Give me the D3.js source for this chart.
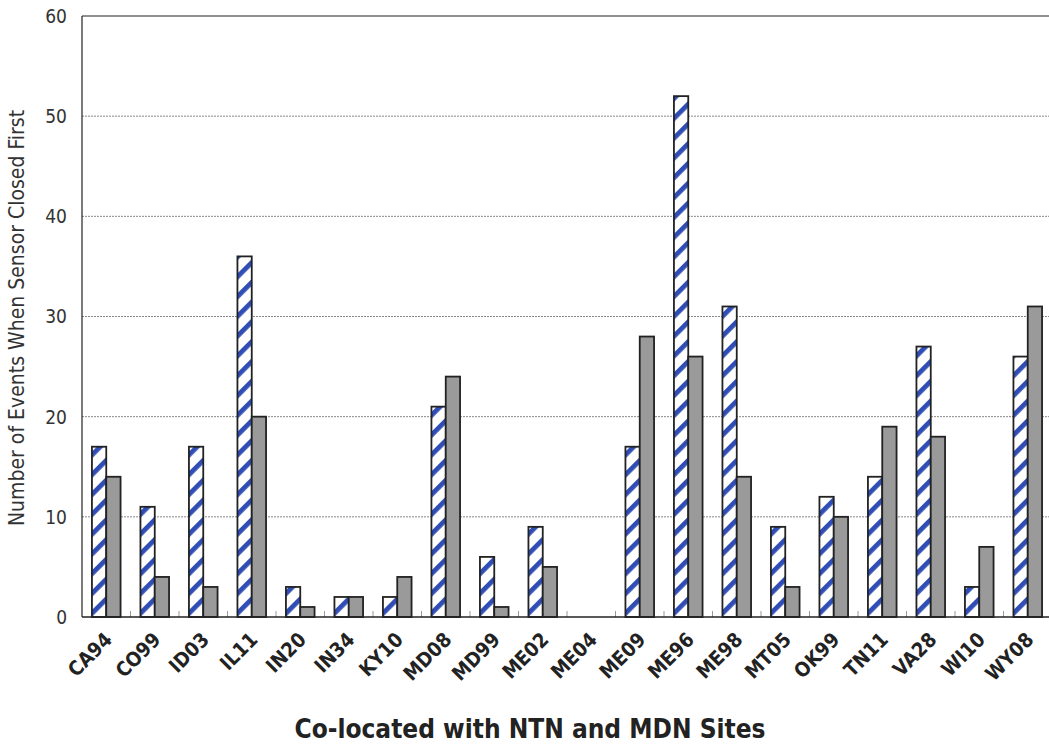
<!DOCTYPE html>
<html>
<head>
<meta charset="utf-8">
<script src="https://cdnjs.cloudflare.com/ajax/libs/d3/7.8.5/d3.min.js"></script>
<style>
  body { margin: 0; background: #fff; }
  text { font-family: "Liberation Sans Narrow", "Arial Narrow", "DejaVu Sans Condensed", sans-serif; }
</style>
</head>
<body>
<script>
// sites along the bottom
var sites = ["CA94","CO99","ID03","IL11","IN20","IN34","KY10","MD08","MD99","ME02",
             "ME04","ME09","ME96","ME98","MT05","OK99","TN11","VA28","WI10","WY08"];
// hatched (blue striped) bars
var hatched = [17, 11, 17, 36, 3, 2, 2, 21, 6, 9, 0, 17, 52, 31, 9, 12, 14, 27, 3, 26];
// solid gray bars
var solid   = [14, 4, 3, 20, 1, 2, 4, 24, 1, 5, 0, 28, 26, 14, 3, 10, 19, 18, 7, 31];
var yTicks = [0, 10, 20, 30, 40, 50, 60];

// set the dimensions and margins of the graph
var margin = {top: 16, right: 0, bottom: 127, left: 82},
    width = 1052 - margin.left,
    height = 744 - margin.top - margin.bottom;

var svg = d3.select("body").append("svg")
    .attr("width", 1049)
    .attr("height", 744);

var defs = svg.append("defs");
var pat = defs.append("pattern")
    .attr("id", "stripes")
    .attr("patternUnits", "userSpaceOnUse")
    .attr("width", 14)
    .attr("height", 14)
    .attr("patternTransform", "rotate(45)");
pat.append("rect").attr("width", 14).attr("height", 14).attr("fill", "#fff");
pat.append("rect").attr("width", 4.8).attr("height", 14).attr("fill", "#2f4db5");

var g = svg.append("g")
    .attr("transform", "translate(" + margin.left + "," + margin.top + ")");

// set the ranges
var x = d3.scaleBand().domain(sites).range([0, width])
    .paddingInner(0.41).paddingOuter(0.205);
var xs = d3.scaleBand().domain(["h", "s"]).range([0, x.bandwidth()]);
var y = d3.scaleLinear().domain([0, 60]).range([height, 0]);

// gridlines
g.selectAll(".grid")
    .data(yTicks.filter(function(d) { return d > 0 && d < 60; }))
  .enter().append("line")
    .attr("x1", 0).attr("x2", width)
    .attr("y1", function(d) { return y(d); })
    .attr("y2", function(d) { return y(d); })
    .attr("stroke", "#888")
    .attr("stroke-width", 1)
    .attr("stroke-dasharray", "2,1");

// minor ticks between categories
g.selectAll(".mtick")
    .data(sites.slice(1))
  .enter().append("line")
    .attr("x1", function(d) { return x(d) - x.step() * 0.205; })
    .attr("x2", function(d) { return x(d) - x.step() * 0.205; })
    .attr("y1", height).attr("y2", height - 6)
    .attr("stroke", "#999")
    .attr("stroke-width", 1);

var groups = g.selectAll(".site")
    .data(sites)
  .enter().append("g")
    .attr("transform", function(d) { return "translate(" + x(d) + ",0)"; });

groups.append("rect")
    .attr("x", xs("h"))
    .attr("width", xs.bandwidth())
    .attr("y", function(d, i) { return y(hatched[i]); })
    .attr("height", function(d, i) { return height - y(hatched[i]); })
    .attr("fill", "url(#stripes)")
    .attr("stroke", "#222")
    .attr("stroke-width", 1.8)
    .style("display", function(d, i) { return hatched[i] > 0 ? null : "none"; });

groups.append("rect")
    .attr("x", xs("s"))
    .attr("width", xs.bandwidth())
    .attr("y", function(d, i) { return y(solid[i]); })
    .attr("height", function(d, i) { return height - y(solid[i]); })
    .attr("fill", "#9a9a9a")
    .attr("stroke", "#222")
    .attr("stroke-width", 1.8)
    .style("display", function(d, i) { return solid[i] > 0 ? null : "none"; });

// frame: left, top, bottom
g.append("line").attr("x1", 0).attr("x2", 0).attr("y1", 0).attr("y2", height)
    .attr("stroke", "#222").attr("stroke-width", 1.2);
g.append("line").attr("x1", 0).attr("x2", width).attr("y1", 0).attr("y2", 0)
    .attr("stroke", "#222").attr("stroke-width", 1.2);
g.append("line").attr("x1", 0).attr("x2", width).attr("y1", height).attr("y2", height)
    .attr("stroke", "#222").attr("stroke-width", 1.5);

// y tick labels
g.selectAll(".ylab")
    .data(yTicks)
  .enter().append("text")
    .attr("x", -15)
    .attr("y", function(d) { return y(d); })
    .attr("dy", "0.36em")
    .attr("text-anchor", "end")
    .attr("fill", "#333")
    .style("font-size", "19px")
    .text(function(d) { return d; });

// x labels
g.selectAll(".xlab")
    .data(sites)
  .enter().append("text")
    .attr("text-anchor", "end")
    .attr("transform", function(d) {
      return "translate(" + (x(d) + x.bandwidth() / 2 + 7) + "," + (height + 24) + ") rotate(-45)";
    })
    .attr("fill", "#222")
    .style("font-size", "20px")
    .style("font-weight", "bold")
    .text(function(d) { return d; });

// axis titles
svg.append("text")
    .attr("transform", "translate(24,318) rotate(-90)")
    .attr("text-anchor", "middle")
    .attr("fill", "#333")
    .style("font-size", "21px")
    .text("Number of Events When Sensor Closed First");

svg.append("text")
    .attr("x", 530)
    .attr("y", 738)
    .attr("text-anchor", "middle")
    .attr("fill", "#222")
    .style("font-size", "26px")
    .style("font-weight", "bold")
    .text("Co-located with NTN and MDN Sites");
</script>
</body>
</html>
